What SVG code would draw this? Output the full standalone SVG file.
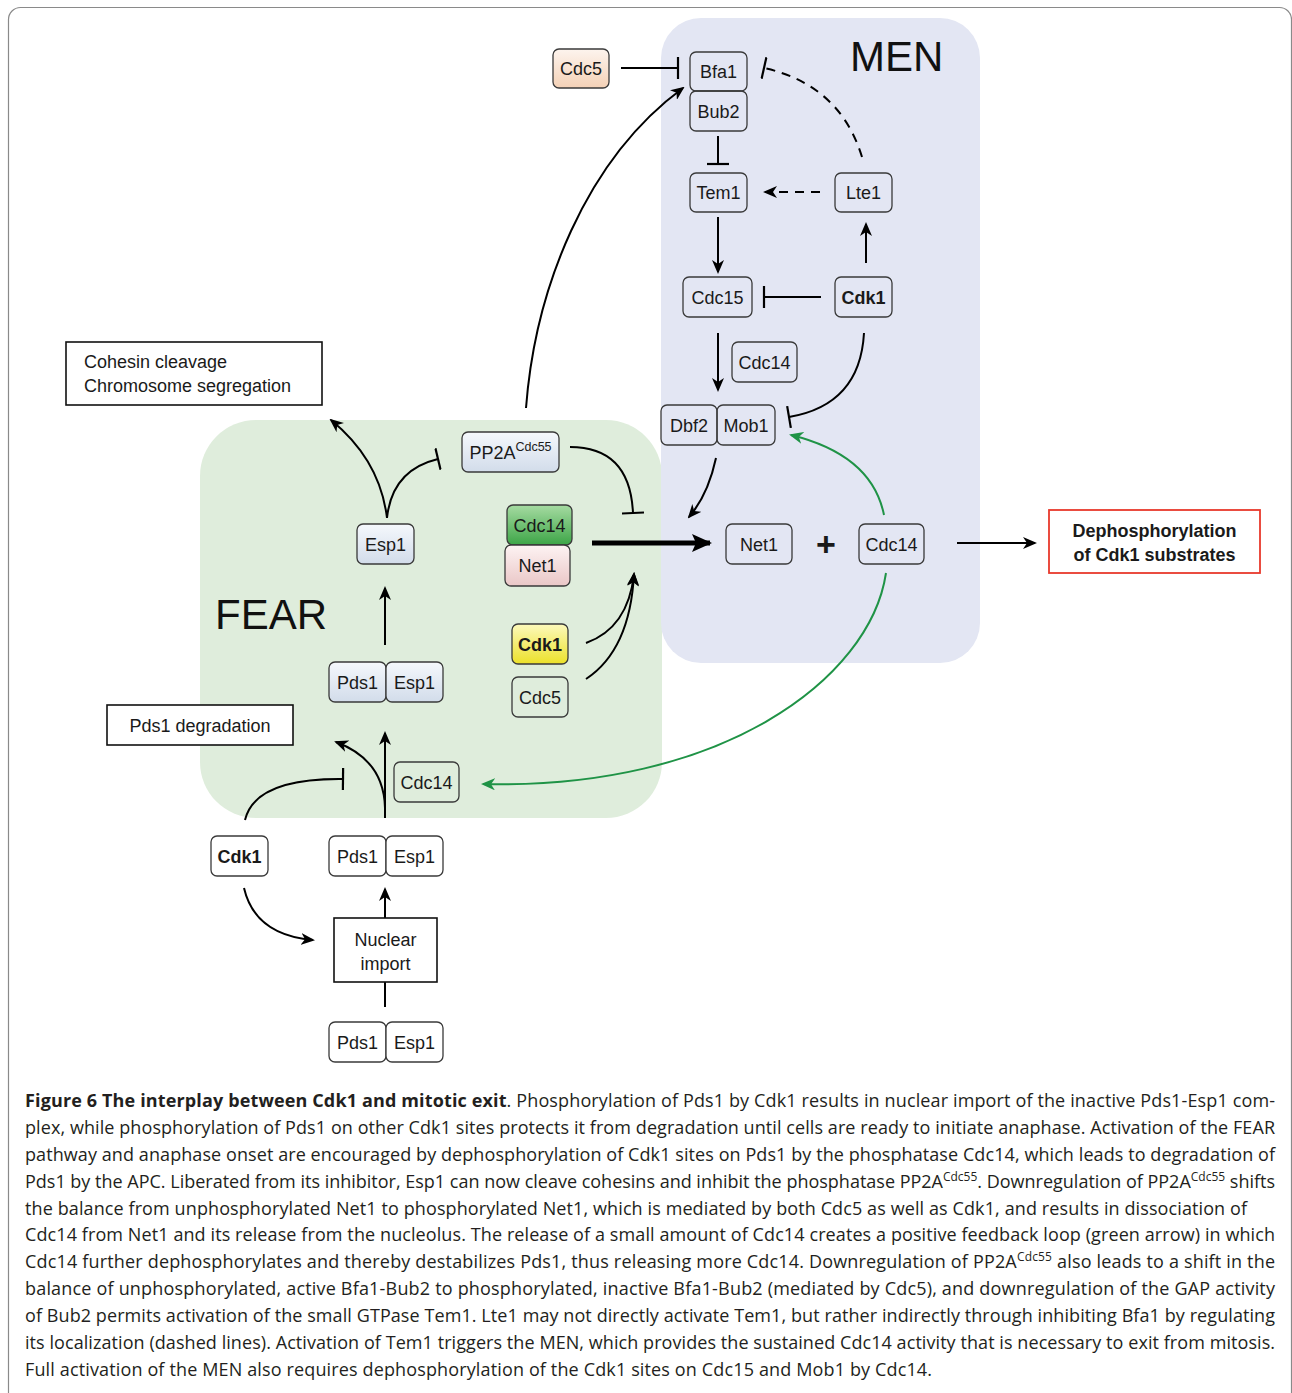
<svg xmlns="http://www.w3.org/2000/svg" width="1292" height="1393" viewBox="0 0 1292 1393">
<style>
.nd rect{stroke:#3a3a3a;stroke-width:1.3}
.lbl{font-family:"Liberation Sans",Arial,sans-serif;font-size:18px;text-anchor:middle;fill:#1a1a1a}
.b{font-weight:bold}
.box{fill:#fff;stroke:#111;stroke-width:1.6}
.edge{fill:none;stroke:#000;stroke-width:2}
.green{stroke:#1f9346}
.dash{stroke-dasharray:9 7}
.cap{font-family:"Open Sans","Noto Sans",sans-serif;font-size:18px;fill:#231f20}
</style>
<defs>
<linearGradient id="gBlue" x1="0" y1="0" x2="0" y2="1"><stop offset="0" stop-color="#f5f8fc"/><stop offset="1" stop-color="#d2dcea"/></linearGradient>
<linearGradient id="gPink" x1="0" y1="0" x2="0" y2="1"><stop offset="0" stop-color="#fdf3f3"/><stop offset="1" stop-color="#eac7c7"/></linearGradient>
<linearGradient id="gGreen" x1="0" y1="0" x2="0" y2="1"><stop offset="0" stop-color="#a6dba2"/><stop offset="1" stop-color="#3da547"/></linearGradient>
<linearGradient id="gYellow" x1="0" y1="0" x2="0" y2="1"><stop offset="0" stop-color="#fcf9bc"/><stop offset="1" stop-color="#ece12a"/></linearGradient>
<linearGradient id="gPeach" x1="0" y1="0" x2="0" y2="1"><stop offset="0" stop-color="#fdf4ee"/><stop offset="1" stop-color="#f4d1b6"/></linearGradient>
<marker id="ah" viewBox="0 0 14 12" refX="12" refY="6" markerWidth="14" markerHeight="12" markerUnits="userSpaceOnUse" orient="auto"><path d="M0,0 L14,6 L0,12 L4,6 z" fill="#000"/></marker>
<marker id="ahg" viewBox="0 0 14 12" refX="12" refY="6" markerWidth="14" markerHeight="12" markerUnits="userSpaceOnUse" orient="auto"><path d="M0,0 L14,6 L0,12 L4,6 z" fill="#1f9346"/></marker>
<marker id="ahBig" viewBox="0 0 20 18" refX="18" refY="9" markerWidth="20" markerHeight="18" markerUnits="userSpaceOnUse" orient="auto"><path d="M0,0 L20,9 L0,18 L4,9 z" fill="#000"/></marker>
<marker id="bar" viewBox="0 0 4 22" refX="2" refY="11" markerWidth="4" markerHeight="22" markerUnits="userSpaceOnUse" orient="auto"><path d="M2,0 V22" stroke="#000" stroke-width="2.2"/></marker>
</defs>

<rect x="8.5" y="7.5" width="1283" height="1420" rx="12" fill="#fff" stroke="#8a8a8a" stroke-width="1.2"/>

<g id="regions">
<rect id="FEAR-region" x="200" y="420" width="462" height="398" rx="56" fill="#dfeddc"/>
<rect id="MEN-region" x="661" y="18" width="319" height="645" rx="40" fill="#e3e6f3"/>
<text x="850" y="71" font-family="Liberation Sans,Arial,sans-serif" font-size="42" fill="#111">MEN</text>
<text x="215" y="629" font-family="Liberation Sans,Arial,sans-serif" font-size="42" fill="#111">FEAR</text>
</g>

<g id="connectors">
<line class="edge" x1="621" y1="68" x2="678" y2="68" marker-end="url(#bar)"/>
<path class="edge dash" d="M862 157 Q840 85 764 68" marker-end="url(#bar)"/>
<line class="edge" x1="718" y1="136" x2="718" y2="164" marker-end="url(#bar)"/>
<line class="edge dash" x1="820" y1="192" x2="765" y2="192" marker-end="url(#ah)"/>
<line class="edge" x1="718" y1="217" x2="718" y2="272" marker-end="url(#ah)"/>
<line class="edge" x1="866" y1="263" x2="866" y2="224" marker-end="url(#ah)"/>
<line class="edge" x1="821" y1="297" x2="764" y2="297" marker-end="url(#bar)"/>
<line class="edge" x1="718" y1="333" x2="718" y2="390" marker-end="url(#ah)"/>
<path class="edge" d="M864 333 Q860 405 789 417" marker-end="url(#bar)"/>
<path class="edge" d="M716 458 Q708 495 689 517" marker-end="url(#ah)"/>
<line x1="592" y1="543" x2="710" y2="543" stroke="#000" stroke-width="5" marker-end="url(#ahBig)"/>
<path class="edge" d="M570 447 Q630 447 633 513" marker-end="url(#bar)"/>
<path class="edge" d="M586 643 Q628 628 634 574" marker-end="url(#ah)"/>
<path class="edge" d="M586 679 Q630 650 634 574" marker-end="url(#ah)"/>
<path class="edge green" d="M884 515 Q872 455 791 435" marker-end="url(#ahg)"/>
<path class="edge green" d="M886 573 C870 680 720 790 483 784" marker-end="url(#ahg)"/>
<line class="edge" x1="957" y1="543" x2="1035" y2="543" marker-end="url(#ah)"/>
<path class="edge" d="M526 408 C535 290 585 160 683 88" marker-end="url(#ah)"/>
<path class="edge" d="M387 518 Q380 460 331 420" marker-end="url(#ah)"/>
<path class="edge" d="M387 518 Q392 470 438 459" marker-end="url(#bar)"/>
<line class="edge" x1="385" y1="645" x2="385" y2="588" marker-end="url(#ah)"/>
<line class="edge" x1="385" y1="818" x2="385" y2="733" marker-end="url(#ah)"/>
<path class="edge" d="M385 808 Q384 760 336 742" marker-end="url(#ah)"/>
<path class="edge" d="M245 820 Q255 778 343 779" marker-end="url(#bar)"/>
<path class="edge" d="M244 888 Q255 935 313 940" marker-end="url(#ah)"/>
<line class="edge" x1="385" y1="918" x2="385" y2="889" marker-end="url(#ah)"/>
<line class="edge" x1="385" y1="982" x2="385" y2="1007"/>
</g>

<g id="node-Cdc5-top" class="nd"><rect x="553" y="49" width="56" height="39" rx="6" fill="url(#gPeach)"/><text class="lbl" x="581" y="75">Cdc5</text></g>
<g id="node-Bfa1" class="nd"><rect x="690" y="52" width="57" height="39" rx="6" fill="none"/><text class="lbl" x="718.5" y="78">Bfa1</text></g>
<g id="node-Bub2" class="nd"><rect x="690" y="91" width="57" height="40" rx="6" fill="none"/><text class="lbl" x="718.5" y="117.5">Bub2</text></g>
<g id="node-Tem1" class="nd"><rect x="690" y="173" width="57" height="39" rx="6" fill="none"/><text class="lbl" x="718.5" y="199">Tem1</text></g>
<g id="node-Lte1" class="nd"><rect x="835" y="173" width="57" height="39" rx="6" fill="none"/><text class="lbl" x="863.5" y="199">Lte1</text></g>
<g id="node-Cdc15" class="nd"><rect x="683" y="277" width="69" height="40" rx="6" fill="none"/><text class="lbl" x="717.5" y="303.5">Cdc15</text></g>
<g id="node-Cdk1-MEN" class="nd"><rect x="835" y="277" width="57" height="40" rx="6" fill="none"/><text class="lbl b" x="863.5" y="303.5">Cdk1</text></g>
<g id="node-Cdc14-MEN" class="nd"><rect x="732" y="342" width="65" height="40" rx="6" fill="none"/><text class="lbl" x="764.5" y="368.5">Cdc14</text></g>
<g id="node-Dbf2" class="nd"><rect x="661" y="405" width="56" height="40" rx="6" fill="none"/><text class="lbl" x="689" y="431.5">Dbf2</text></g>
<g id="node-Mob1" class="nd"><rect x="717" y="405" width="58" height="40" rx="6" fill="none"/><text class="lbl" x="746" y="431.5">Mob1</text></g>
<g id="node-Net1-free" class="nd"><rect x="726" y="524" width="66" height="40" rx="6" fill="none"/><text class="lbl" x="759" y="550.5">Net1</text></g>
<g id="plus"><text class="lbl b" x="826" y="556" font-size="34" style="font-size:34px">+</text></g>
<g id="node-Cdc14-free" class="nd"><rect x="859" y="524" width="65" height="40" rx="6" fill="none"/><text class="lbl" x="891.5" y="550.5">Cdc14</text></g>
<g id="node-Dephos"><rect x="1049" y="510" width="211" height="63" fill="#fff" stroke="#e8392c" stroke-width="1.8"/><text class="lbl b" x="1154.5" y="537">Dephosphorylation</text><text class="lbl b" x="1154.5" y="561">of Cdk1 substrates</text></g>

<g id="node-PP2A" class="nd"><rect x="462" y="432" width="97" height="40" rx="6" fill="url(#gBlue)"/><text class="lbl" x="510.5" y="459">PP2A<tspan dy="-8" style="font-size:12.5px">Cdc55</tspan></text></g>
<g id="node-Cdc14-Net1-complex" class="nd"><rect x="507" y="505" width="65" height="40" rx="6" fill="url(#gGreen)"/><text class="lbl" x="539.5" y="531.5">Cdc14</text><rect x="505" y="545" width="65" height="41" rx="6" fill="url(#gPink)"/><text class="lbl" x="537.5" y="572">Net1</text></g>
<g id="node-Esp1" class="nd"><rect x="357" y="524" width="57" height="40" rx="6" fill="url(#gBlue)"/><text class="lbl" x="385.5" y="550.5">Esp1</text></g>
<g id="node-Cdk1-FEAR" class="nd"><rect x="512" y="624" width="56" height="40" rx="6" fill="url(#gYellow)"/><text class="lbl b" x="540" y="650.5">Cdk1</text></g>
<g id="node-Cdc5-FEAR" class="nd"><rect x="512" y="677" width="56" height="40" rx="6" fill="none"/><text class="lbl" x="540" y="703.5">Cdc5</text></g>
<g id="node-Pds1-Esp1-FEAR" class="nd"><rect x="329" y="662" width="57" height="40" rx="6" fill="url(#gBlue)"/><text class="lbl" x="357.5" y="688.5">Pds1</text><rect x="386" y="662" width="57" height="40" rx="6" fill="url(#gBlue)"/><text class="lbl" x="414.5" y="688.5">Esp1</text></g>
<g id="node-Cdc14-low" class="nd"><rect x="394" y="762" width="65" height="40" rx="6" fill="none"/><text class="lbl" x="426.5" y="788.5">Cdc14</text></g>
<g id="node-Pds1-degradation"><rect class="box" x="107" y="705" width="186" height="40"/><text class="lbl" x="200" y="731.5">Pds1 degradation</text></g>
<g id="node-Cohesin"><rect class="box" x="66" y="342" width="256" height="63"/><text class="lbl" x="84" y="368" style="text-anchor:start">Cohesin cleavage</text><text class="lbl" x="84" y="392" style="text-anchor:start">Chromosome segregation</text></g>
<g id="node-Cdk1-bottom" class="nd"><rect x="211" y="836" width="57" height="40" rx="6" fill="#fff"/><text class="lbl b" x="239.5" y="862.5">Cdk1</text></g>
<g id="node-Pds1-Esp1-mid" class="nd"><rect x="329" y="836" width="57" height="40" rx="6" fill="#fff"/><text class="lbl" x="357.5" y="862.5">Pds1</text><rect x="386" y="836" width="57" height="40" rx="6" fill="#fff"/><text class="lbl" x="414.5" y="862.5">Esp1</text></g>
<g id="node-Nuclear-import"><rect class="box" x="334" y="918" width="103" height="64"/><text class="lbl" x="385.5" y="946">Nuclear</text><text class="lbl" x="385.5" y="970">import</text></g>
<g id="node-Pds1-Esp1-bottom" class="nd"><rect x="329" y="1022" width="57" height="40" rx="6" fill="#fff"/><text class="lbl" x="357.5" y="1048.5">Pds1</text><rect x="386" y="1022" width="57" height="40" rx="6" fill="#fff"/><text class="lbl" x="414.5" y="1048.5">Esp1</text></g>

<g id="caption" class="cap">
<text x="25" y="1107" textLength="1250" lengthAdjust="spacing"><tspan font-weight="bold">Figure 6 The interplay between Cdk1 and mitotic exit</tspan>. Phosphorylation of Pds1 by Cdk1 results in nuclear import of the inactive Pds1-Esp1 com-</text>
<text x="25" y="1134" textLength="1250" lengthAdjust="spacing">plex, while phosphorylation of Pds1 on other Cdk1 sites protects it from degradation until cells are ready to initiate anaphase. Activation of the FEAR</text>
<text x="25" y="1160.5" textLength="1250" lengthAdjust="spacing">pathway and anaphase onset are encouraged by dephosphorylation of Cdk1 sites on Pds1 by the phosphatase Cdc14, which leads to degradation of</text>
<text x="25" y="1187.5" textLength="1250" lengthAdjust="spacing">Pds1 by the APC. Liberated from its inhibitor, Esp1 can now cleave cohesins and inhibit the phosphatase PP2A<tspan dy="-7" font-size="12">Cdc55</tspan><tspan dy="7">. Downregulation of PP2A</tspan><tspan dy="-7" font-size="12">Cdc55</tspan><tspan dy="7"> shifts</tspan></text>
<text x="25" y="1214.5" textLength="1222" lengthAdjust="spacing">the balance from unphosphorylated Net1 to phosphorylated Net1, which is mediated by both Cdc5 as well as Cdk1, and results in dissociation of</text>
<text x="25" y="1241" textLength="1250" lengthAdjust="spacing">Cdc14 from Net1 and its release from the nucleolus. The release of a small amount of Cdc14 creates a positive feedback loop (green arrow) in which</text>
<text x="25" y="1268" textLength="1250" lengthAdjust="spacing">Cdc14 further dephosphorylates and thereby destabilizes Pds1, thus releasing more Cdc14. Downregulation of PP2A<tspan dy="-7" font-size="12">Cdc55</tspan><tspan dy="7"> also leads to a shift in the</tspan></text>
<text x="25" y="1295" textLength="1250" lengthAdjust="spacing">balance of unphosphorylated, active Bfa1-Bub2 to phosphorylated, inactive Bfa1-Bub2 (mediated by Cdc5), and downregulation of the GAP activity</text>
<text x="25" y="1321.5" textLength="1250" lengthAdjust="spacing">of Bub2 permits activation of the small GTPase Tem1. Lte1 may not directly activate Tem1, but rather indirectly through inhibiting Bfa1 by regulating</text>
<text x="25" y="1348.5" textLength="1250" lengthAdjust="spacing">its localization (dashed lines). Activation of Tem1 triggers the MEN, which provides the sustained Cdc14 activity that is necessary to exit from mitosis.</text>
<text x="25" y="1375.5" textLength="907" lengthAdjust="spacing">Full activation of the MEN also requires dephosphorylation of the Cdk1 sites on Cdc15 and Mob1 by Cdc14.</text>
</g>
</svg>
